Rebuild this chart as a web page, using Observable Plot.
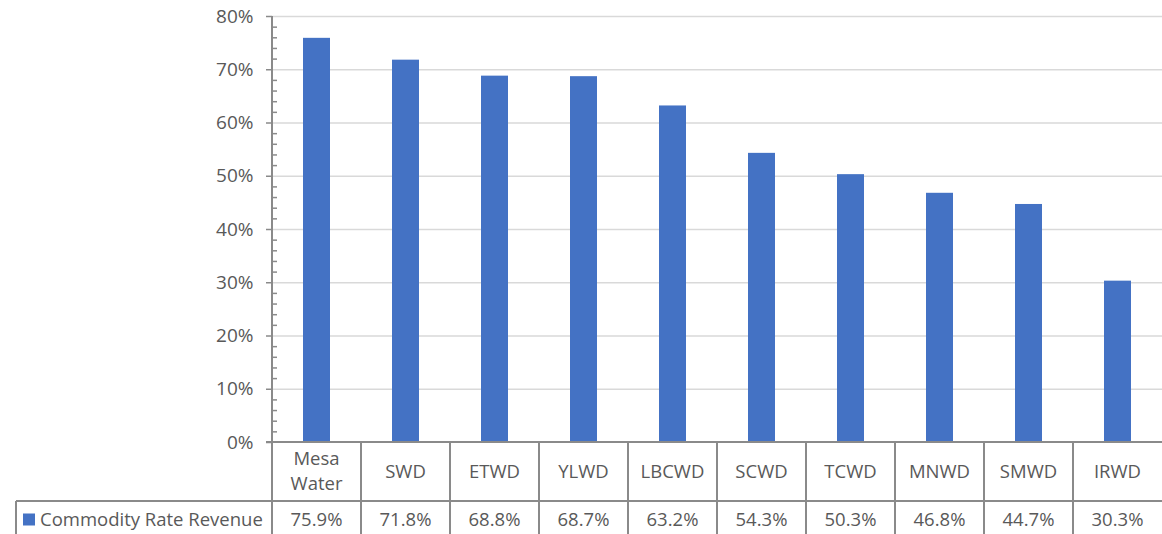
<!DOCTYPE html>
<html>
<head>
<meta charset="utf-8">
<script src="https://cdn.jsdelivr.net/npm/d3@7"></script>
<script src="https://cdn.jsdelivr.net/npm/@observablehq/plot@0.6"></script>
<style>
  html, body { margin: 0; padding: 0; background: #fff; }
  #chart { width: 1162px; height: 534px; overflow: hidden; }
</style>
</head>
<body>
<div id="chart"></div>
<script>
const categories = ["Mesa Water", "SWD", "ETWD", "YLWD", "LBCWD", "SCWD", "TCWD", "MNWD", "SMWD", "IRWD"];
const categoryLines = [["Mesa", "Water"], ["SWD"], ["ETWD"], ["YLWD"], ["LBCWD"], ["SCWD"], ["TCWD"], ["MNWD"], ["SMWD"], ["IRWD"]];
const values = [0.759, 0.718, 0.688, 0.687, 0.632, 0.543, 0.503, 0.468, 0.447, 0.303];
const seriesName = "Commodity Rate Revenue";
const majorTicks = [0, 0.1, 0.2, 0.3, 0.4, 0.5, 0.6, 0.7, 0.8];
const minorTicks = [0.02,0.04,0.06,0.08,0.12,0.14,0.16,0.18,0.22,0.24,0.26,0.28,0.32,0.34,0.36,0.38,0.42,0.44,0.46,0.48,0.52,0.54,0.56,0.58,0.62,0.64,0.66,0.68,0.72,0.74,0.76,0.78];

const data = categories.map((c, i) => ({category: c, value: values[i]}));

const W = 1162, H = 534;
const mL = 272, mR = 0, mT = 16, mB = 92;
const plotW = W - mL - mR;
const BAR = "#4472c4", TEXT = "#595959", AXIS = "#8a8a8a", GRID = "#d9d9d9";
const FONT = "'Open Sans', sans-serif";
const FS = 18.5;
const fmt = d3.format(".1%");

const plot = Plot.plot({
  width: W, height: H,
  marginLeft: mL, marginRight: mR, marginTop: mT, marginBottom: mB,
  style: {fontFamily: FONT, fontSize: "19px", color: TEXT, background: "#fff"},
  x: {domain: categories, paddingInner: 0.692, paddingOuter: 0.346, axis: null},
  y: {domain: [0, 0.8], axis: null},
  marks: [
    Plot.gridY(majorTicks.filter(d => d > 0), {stroke: GRID, strokeOpacity: 1, strokeWidth: 1.5}),
    Plot.barY(data, {x: "category", y: "value", fill: BAR}),
    Plot.tickY(minorTicks, {y: d => d, stroke: AXIS, strokeWidth: 1.5, insetRight: plotW - 5}),
    Plot.axisY(majorTicks, {tickFormat: d3.format(".0%"), tickSize: 6, tickPadding: 13, stroke: AXIS, fill: TEXT, fontSize: 19, strokeWidth: 1.5, label: null})
  ]
});

document.getElementById("chart").appendChild(plot);

// Data table beneath the chart, positioned with the plot's own scales
const svg = d3.select(plot);
const xs = plot.scale("x");
const ys = plot.scale("y");
const step = xs.step, bw = xs.bandwidth;
const y0 = ys.apply(0);
const rowSplit = y0 + 59;
const tableBottom = H;
const colLeft = c => xs.apply(c) - (step - bw) / 2;
const g = svg.append("g").attr("stroke", AXIS).attr("stroke-width", 2).attr("fill", "none");

g.append("line").attr("x1", mL).attr("x2", mL).attr("y1", ys.apply(0.8)).attr("y2", tableBottom);
g.append("line").attr("x1", mL - 6).attr("x2", W).attr("y1", y0).attr("y2", y0);
g.append("line").attr("x1", 16).attr("x2", W).attr("y1", rowSplit).attr("y2", rowSplit);
g.append("line").attr("x1", 16).attr("x2", 16).attr("y1", rowSplit).attr("y2", tableBottom);
categories.forEach((c, i) => {
  if (i > 0) g.append("line").attr("x1", colLeft(c)).attr("x2", colLeft(c)).attr("y1", y0).attr("y2", tableBottom);
});

const t = svg.append("g").attr("fill", TEXT).attr("font-family", FONT).attr("font-size", FS).attr("text-anchor", "middle");
categories.forEach((c, i) => {
  const cx = xs.apply(c) + bw / 2;
  const lines = categoryLines[i];
  const mid = (y0 + rowSplit) / 2;
  lines.forEach((ln, j) => {
    t.append("text").attr("x", cx).attr("y", mid + (j - (lines.length - 1) / 2) * 25).attr("dy", "0.35em").text(ln);
  });
  t.append("text").attr("x", cx).attr("y", (rowSplit + tableBottom) / 2 + 2).attr("dy", "0.35em").text(fmt(values[i]));
});

svg.append("rect").attr("x", 23).attr("y", (rowSplit + tableBottom) / 2 - 4).attr("width", 12).attr("height", 12).attr("fill", BAR);
svg.append("text").attr("x", 40).attr("y", (rowSplit + tableBottom) / 2 + 2).attr("dy", "0.35em")
  .attr("text-anchor", "start").attr("fill", TEXT).attr("font-family", FONT).attr("font-size", FS).text(seriesName);
</script>
</body>
</html>
